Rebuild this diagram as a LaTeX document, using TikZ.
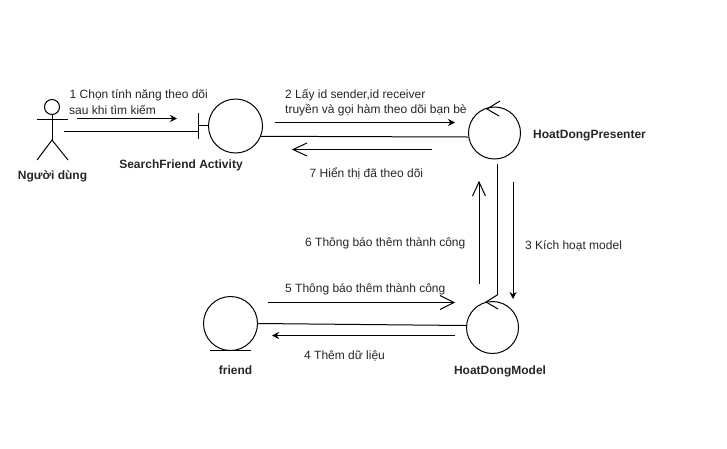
\documentclass[tikz,border=0pt]{standalone}
\usepackage{fontspec}
\setmainfont{Liberation Sans}
\usetikzlibrary{arrows.meta}
\tikzset{
  obj/.style={circle,draw,line width=1pt,inner sep=0pt,fill=white},
  lbl/.style={font=\fontsize{12}{14}\selectfont,align=left,anchor=west,inner sep=0pt,text=black!85,yshift=-0.8pt},
  objname/.style={font=\fontsize{12}{14}\selectfont\bfseries,inner sep=0pt,text=black!85,yshift=-1.5pt},
  ln/.style={line width=1pt},
  filledarrow/.style={ln,-{Stealth[length=7pt,width=7pt]}}
}
\begin{document}
\begin{tikzpicture}[x=1pt,y=-1pt]
\useasboundingbox (0,0) rectangle (727,448);
% actor
\node[obj,minimum size=15pt] (head) at (52,107) {};
\coordinate (hip) at (52,140);
\coordinate (armL) at (37,119.5);
\coordinate (armR) at (68,119.5);
\coordinate (legL) at (37,160);
\coordinate (legR) at (68,160);
\draw[ln] (head.south) -- (hip);
\draw[ln] (armL) -- (armR);
\draw[ln] (legL) -- (hip) -- (legR);
\node[objname] (tuser) at (52.5,175) {Người dùng};
% objects
\node[obj,minimum size=54pt] (sf) at (235.5,126) {};
\coordinate (barT) at (198,113);
\coordinate (barB) at (198,139);
\coordinate (barM) at (198,125.5);
\draw[ln] (barT) -- (barB);
\draw[ln] (barM) -- (sf.west |- barM);
\node[objname] (tsf) at (181,164) {SearchFriend Activity};
\node[obj,minimum size=52pt] (pres) at (494.5,133) {};
\coordinate (pa) at (500,101);
\coordinate (pb) at (487,109);
\coordinate (pc) at (499,116);
\draw[ln] (pa) -- (pb) -- (pc);
\node[objname,anchor=west] (tpres) at (533,134) {HoatDongPresenter};
\node[obj,minimum size=52pt] (model) at (492.5,327.5) {};
\coordinate (ma) at (498,294.5);
\coordinate (mb) at (486,302);
\coordinate (mc) at (498,309);
\draw[ln] (ma) -- (mb) -- (mc);
\node[objname] (tmodel) at (500,370) {HoatDongModel};
\node[obj,minimum size=54pt] (fr) at (230.5,323.5) {};
\coordinate (ubL) at (210,350);
\coordinate (ubR) at (251,350);
\draw[ln] (ubL) -- (ubR);
\node[objname] (tfr) at (235.5,369) {friend};
% connectors between objects
\coordinate (ua) at (64,131.5);
\draw[ln] (ua) -- (barB |- ua);
\draw[ln] (sf.-22) -- (pres.west |- 0,137);
\draw[ln] (fr.east |- 0,323.5) -- (model.west |- 0,325.5);
\coordinate (p1) at (497,164);
\coordinate (m1) at (497,295);
\draw[ln] (p1) -- (m1);
% message arrows
\coordinate (a1s) at (77,118.5); \coordinate (a1e) at (177,118.5);
\draw[filledarrow] (a1s) -- (a1e);
\coordinate (a2s) at (275,122.5); \coordinate (a2e) at (455,122.5);
\draw[filledarrow] (a2s) -- (a2e);
\coordinate (a3s) at (513,182); \coordinate (a3e) at (513,299);
\draw[filledarrow] (a3s) -- (a3e);
\coordinate (a4s) at (455,335.5); \coordinate (a4e) at (272,335.5);
\draw[filledarrow] (a4s) -- (a4e);
% open-headed message arrows
\coordinate (a7s) at (432,149.5); \coordinate (a7e) at (293,149.5);
\draw[ln] (a7s) -- (a7e);
\draw[ln] (307,143) -- (a7e) -- (307,156);
\coordinate (a6s) at (479,284); \coordinate (a6e) at (479,182);
\draw[ln] (a6s) -- (a6e);
\draw[ln] (472.5,196) -- (a6e) -- (485.5,196);
\coordinate (a5s) at (268,302.5); \coordinate (a5e) at (454,302.5);
\draw[ln] (a5s) -- (a5e);
\draw[ln] (440,295.5) -- (a5e) -- (440,309.5);
% labels
\node[lbl] (t1) at (69.5,94.5) {1 Chọn tính năng theo dõi};
\node[lbl] (t1b) at (69,109) {sau khi tìm kiếm};
\node[lbl] (t2) at (285,94.5) {2 Lấy id sender,id receiver};
\node[lbl] (t2b) at (285,109) {truyền và gọi hàm theo dõi bạn bè};
\node[lbl] (t7) at (309.5,172.5) {7 Hiển thị đã theo dõi};
\node[lbl] (t3) at (525,245.5) {3 Kích hoạt model};
\node[lbl] (t6) at (305,243) {6 Thông báo thêm thành công};
\node[lbl] (t5) at (285,289) {5 Thông báo thêm thành công};
\node[lbl] (t4) at (304,355) {4 Thêm dữ liệu};
\end{tikzpicture}
\end{document}
